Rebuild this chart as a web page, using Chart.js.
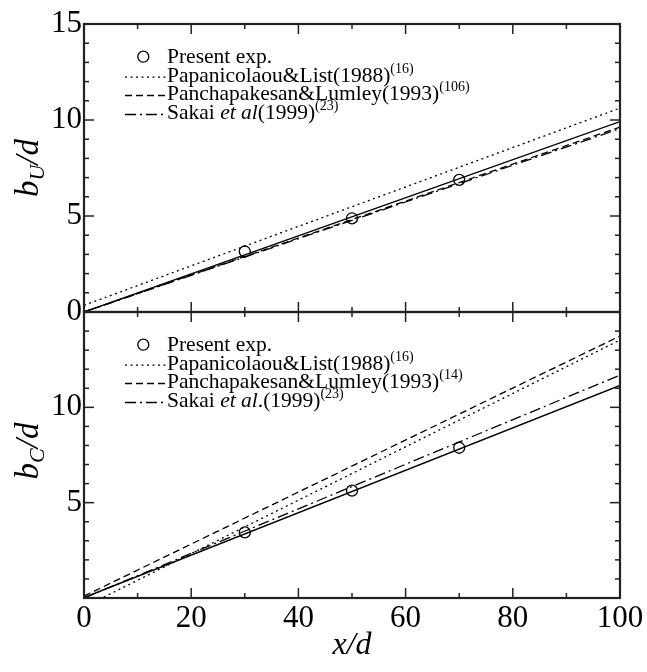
<!DOCTYPE html>
<html>
<head>
<meta charset="utf-8">
<script src="https://cdn.jsdelivr.net/npm/chart.js@4.4.1/dist/chart.umd.min.js"></script>
<style>
  body { margin: 0; background: #fff; }
  .wrap { position: relative; width: 647px; height: 672px; }
  canvas { position: absolute; left: 0; top: 0; }
</style>
</head>
<body>
<div class="wrap">
  <canvas id="chartU" width="647" height="672"></canvas>
  <canvas id="chartC" width="647" height="672"></canvas>
</div>
<script>
// --- data ---
const lineX = [0, 100];          // end points of the straight lines
const expX  = [30, 50, 70];      // measuring stations x/d

// upper panel: b_U/d
const expU = [3.15, 4.88, 6.88];
const fitU = [0.0, 9.92];
const papU = [0.35, 10.62];
const panU = [0.0, 9.63];
const sakU = [0.0, 9.55];

// lower panel: b_C/d
const expC = [3.44, 5.63, 7.88];
const fitC = [0.02, 11.15];
const papC = [-0.47, 13.53];
const panC = [0.10, 13.74];
const sakC = [0.0, 11.69];

// legend texts (segment, style)
const legendU = [
  [['Present exp.']],
  [['Papanicolaou&List(1988)'], ['(16)', 'sup']],
  [['Panchapakesan&Lumley(1993)'], ['(106)', 'sup']],
  [['Sakai '], ['et al', 'it'], ['(1999)'], ['(23)', 'sup']]
];
const legendC = [
  [['Present exp.']],
  [['Papanicolaou&List(1988)'], ['(16)', 'sup']],
  [['Panchapakesan&Lumley(1993)'], ['(14)', 'sup']],
  [['Sakai '], ['et al', 'it'], ['.(1999)'], ['(23)', 'sup']]
];

const SERIF = "'Liberation Serif', 'Times New Roman', serif";
const pts = (xs, ys) => xs.map((x, k) => ({ x: x, y: ys[k] }));

function datasets(exp, fit, pap, pan, sak) {
  return [
    { label: 'exp', data: pts(expX, exp), showLine: false, pointRadius: 5.5,
      pointBorderWidth: 1.3, pointBorderColor: '#000', pointBackgroundColor: 'rgba(0,0,0,0)' },
    { label: 'fit', data: pts(lineX, fit), showLine: true, pointRadius: 0,
      borderColor: '#000', borderWidth: 1.4 },
    { label: 'pap', data: pts(lineX, pap), showLine: true, pointRadius: 0,
      borderColor: '#000', borderWidth: 1.3, borderDash: [2, 3.5] },
    { label: 'pan', data: pts(lineX, pan), showLine: true, pointRadius: 0,
      borderColor: '#000', borderWidth: 1.3, borderDash: [7, 4] },
    { label: 'sak', data: pts(lineX, sak), showLine: true, pointRadius: 0,
      borderColor: '#000', borderWidth: 1.3, borderDash: [11, 4, 2, 4] }
  ];
}

// inward ticks on all four sides + frame
const frameTicks = {
  id: 'frameTicks',
  afterDraw(chart) {
    const { ctx, chartArea: a, scales: { x, y } } = chart;
    ctx.save();
    ctx.strokeStyle = '#222';
    ctx.lineWidth = 1.5;
    const seg = (x1, y1, x2, y2) => { ctx.beginPath(); ctx.moveTo(x1, y1); ctx.lineTo(x2, y2); ctx.stroke(); };
    for (let v = 0; v <= 100; v += 10) {
      const px = x.getPixelForValue(v), len = v % 20 === 0 ? 10 : 5;
      seg(px, a.top, px, a.top + len);
      seg(px, a.bottom, px, a.bottom - len);
    }
    for (let v = 0; v <= 15; v += 1) {
      const py = y.getPixelForValue(v), len = v % 5 === 0 ? 10 : 5;
      seg(a.left, py, a.left + len, py);
      seg(a.right, py, a.right - len, py);
    }
    ctx.lineWidth = 2.2;
    ctx.strokeRect(a.left, a.top, a.right - a.left, a.bottom - a.top);
    ctx.restore();
  }
};

// legend with italics and superscripts
function drawRich(ctx, x, y, parts, size) {
  for (const [txt, st] of parts) {
    if (st === 'sup') {
      ctx.font = `${Math.round(size * 0.66)}px ${SERIF}`;
      ctx.fillText(txt, x, y - size * 0.4);
    } else {
      ctx.font = `${st === 'it' ? 'italic ' : ''}${size}px ${SERIF}`;
      ctx.fillText(txt, x, y);
    }
    x += ctx.measureText(txt).width;
  }
}

const richLegend = {
  id: 'richLegend',
  afterDraw(chart, args, opts) {
    const { ctx, chartArea: a } = chart;
    const ds = chart.data.datasets;
    const order = [0, 2, 3, 4];
    const baselines = [39, 57.7, 76, 95];
    ctx.save();
    ctx.fillStyle = '#000';
    ctx.strokeStyle = '#000';
    ctx.textBaseline = 'alphabetic';
    order.forEach((di, r) => {
      const by = a.top + baselines[r];
      const d = ds[di];
      if (di === 0) {
        ctx.lineWidth = 1.3;
        ctx.beginPath();
        ctx.arc(143.3, by - 6.3, 5.5, 0, Math.PI * 2);
        ctx.stroke();
      } else {
        ctx.lineWidth = 1.3;
        ctx.setLineDash(d.borderDash || []);
        ctx.beginPath();
        ctx.moveTo(125, by - 4.5);
        ctx.lineTo(167, by - 4.5);
        ctx.stroke();
        ctx.setLineDash([]);
      }
      drawRich(ctx, 167, by, opts.entries[r], 21.5);
    });
    // y axis title, rotated
    ctx.translate(38, opts.titleY);
    ctx.rotate(-Math.PI / 2);
    ctx.font = `italic 33px ${SERIF}`;
    const wB = ctx.measureText('b').width;
    ctx.font = `italic 22px ${SERIF}`;
    const wS = ctx.measureText(opts.sub).width;
    ctx.font = `italic 33px ${SERIF}`;
    const wD = ctx.measureText('/d').width;
    let tx = -(wB + wS + wD) / 2;
    ctx.fillText('b', tx, 0); tx += wB;
    ctx.font = `italic 22px ${SERIF}`;
    ctx.fillText(opts.sub, tx, 6); tx += wS;
    ctx.font = `italic 33px ${SERIF}`;
    ctx.fillText('/d', tx, 0);
    ctx.restore();
    if (opts.xTitle) {
      ctx.save();
      ctx.font = `italic 32px ${SERIF}`;
      ctx.fillStyle = '#000';
      ctx.textAlign = 'center';
      ctx.fillText('x/d', (a.left + a.right) / 2, 654);
      ctx.restore();
    }
  }
};

function panelOptions(isTop, entries, sub, titleY) {
  return {
    responsive: false,
    animation: false,
    layout: { padding: isTop ? { top: 24, right: 27, bottom: 360, left: 0 }
                             : { top: 312, right: 27, bottom: 0, left: 0 } },
    plugins: {
      legend: { display: false },
      tooltip: { enabled: false },
      richLegend: { entries: entries, sub: sub, titleY: titleY, xTitle: !isTop }
    },
    scales: {
      x: {
        type: 'linear', min: 0, max: 100,
        grid: { display: false, drawTicks: false }, border: { display: false },
        ticks: { display: !isTop, stepSize: 20, padding: 2, color: '#000',
                 font: { family: SERIF, size: 31 } },
        afterFit: s => { s.height = isTop ? 0 : 74; }
      },
      y: {
        min: 0, max: 15,
        grid: { display: false, drawTicks: false }, border: { display: false },
        ticks: { stepSize: 5, padding: 2, color: '#000', font: { family: SERIF, size: 31 },
                 callback: v => (isTop || (v !== 0 && v !== 15)) ? v : '' },
        afterFit: s => { s.width = 84; }
      }
    }
  };
}

new Chart(document.getElementById('chartU'), {
  type: 'scatter',
  data: { datasets: datasets(expU, fitU, papU, panU, sakU) },
  options: panelOptions(true, legendU, 'U', 168),
  plugins: [frameTicks, richLegend]
});

new Chart(document.getElementById('chartC'), {
  type: 'scatter',
  data: { datasets: datasets(expC, fitC, papC, panC, sakC) },
  options: panelOptions(false, legendC, 'C', 451),
  plugins: [frameTicks, richLegend]
});
</script>
</body>
</html>
